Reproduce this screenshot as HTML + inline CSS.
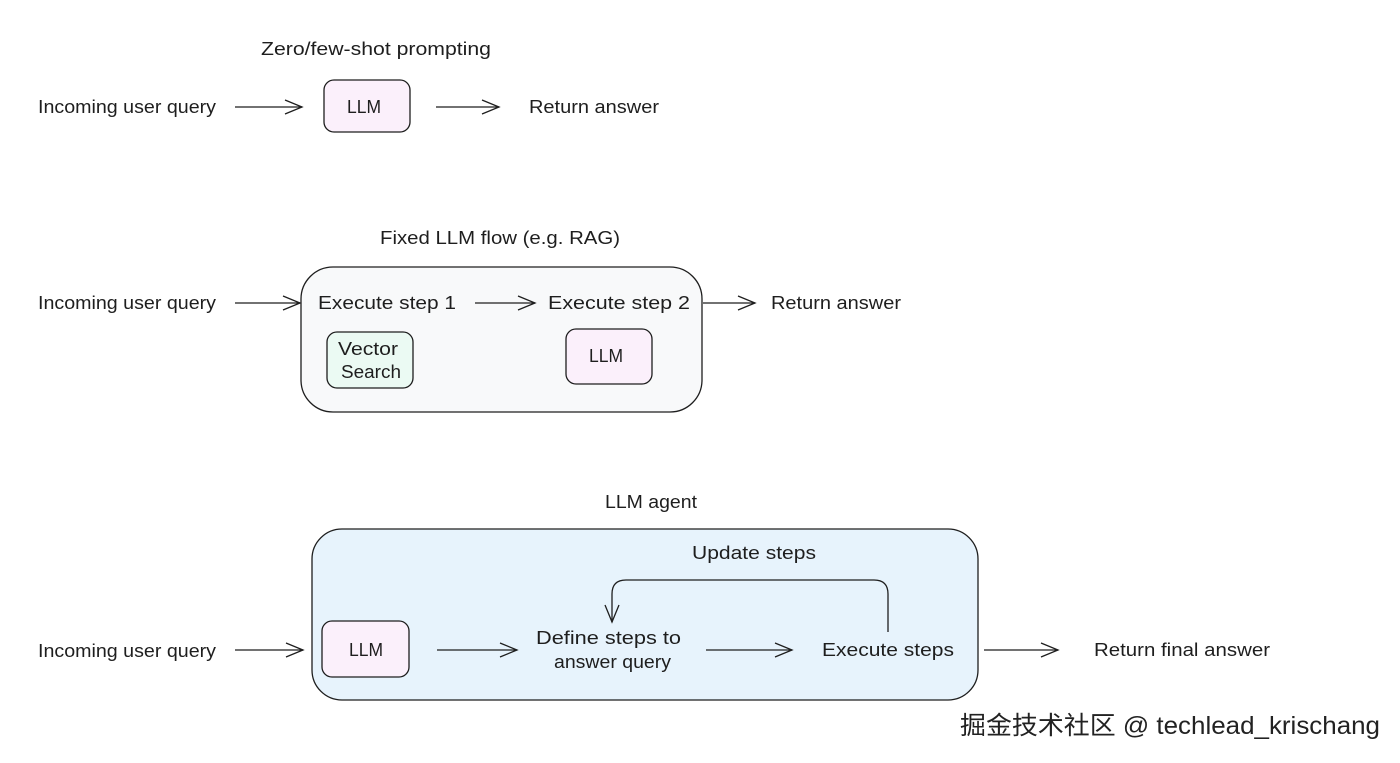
<!DOCTYPE html>
<html><head><meta charset="utf-8"><style>
html,body{margin:0;padding:0;background:#fff;}
svg{display:block;}
text{font-family:"Liberation Sans","Noto Sans CJK SC",sans-serif;font-size:18px;fill:#1e1e1e;}
</style></head><body>
<svg width="1400" height="763" viewBox="0 0 1400 763" xmlns="http://www.w3.org/2000/svg">
<defs>
<marker id="a" markerWidth="20" markerHeight="16" refX="18" refY="8" orient="auto" markerUnits="userSpaceOnUse">
<path d="M1 1 L18 8 L1 15" fill="none" stroke="#1e1e1e" stroke-width="1.3"/>
</marker>
</defs>
<g stroke="#1e1e1e" stroke-width="1.3">
<rect x="324" y="80" width="86" height="52" rx="10" fill="#fbf0fb"/>
<rect x="301" y="267" width="401" height="145" rx="32" fill="#f8f9fa"/>
<rect x="327" y="332" width="86" height="56" rx="10" fill="#ebfaf3"/>
<rect x="566" y="329" width="86" height="55" rx="10" fill="#fbf0fb"/>
<rect x="312" y="529" width="666" height="171" rx="30" fill="#e7f3fc"/>
<rect x="322" y="621" width="87" height="56" rx="10" fill="#fbf0fb"/>
</g>
<g stroke="#1e1e1e" stroke-width="1.3" fill="none" marker-end="url(#a)">
<line x1="235" y1="107" x2="302" y2="107"/>
<line x1="436" y1="107" x2="499" y2="107"/>
<line x1="235" y1="303" x2="300" y2="303"/>
<line x1="475" y1="303" x2="535" y2="303"/>
<line x1="703" y1="303" x2="755" y2="303"/>
<line x1="235" y1="650" x2="303" y2="650"/>
<line x1="437" y1="650" x2="517" y2="650"/>
<line x1="706" y1="650" x2="792" y2="650"/>
<line x1="984" y1="650" x2="1058" y2="650"/>
<path d="M888 632 L888 594 Q888 580 874 580 L626 580 Q612 580 612 594 L612 622"/>
</g>
<text x="261" y="55" textLength="230" lengthAdjust="spacingAndGlyphs">Zero/few-shot prompting</text>
<text x="38" y="113" textLength="178" lengthAdjust="spacingAndGlyphs">Incoming user query</text>
<text x="347" y="113" textLength="34" lengthAdjust="spacingAndGlyphs">LLM</text>
<text x="529" y="113" textLength="130" lengthAdjust="spacingAndGlyphs">Return answer</text>
<text x="380" y="244" textLength="240" lengthAdjust="spacingAndGlyphs">Fixed LLM flow (e.g. RAG)</text>
<text x="38" y="309" textLength="178" lengthAdjust="spacingAndGlyphs">Incoming user query</text>
<text x="318" y="309" textLength="138" lengthAdjust="spacingAndGlyphs">Execute step 1</text>
<text x="548" y="309" textLength="142" lengthAdjust="spacingAndGlyphs">Execute step 2</text>
<text x="771" y="309" textLength="130" lengthAdjust="spacingAndGlyphs">Return answer</text>
<text x="338" y="355" textLength="60" lengthAdjust="spacingAndGlyphs">Vector</text>
<text x="341" y="378" textLength="60" lengthAdjust="spacingAndGlyphs">Search</text>
<text x="589" y="362" textLength="34" lengthAdjust="spacingAndGlyphs">LLM</text>
<text x="605" y="508" textLength="92" lengthAdjust="spacingAndGlyphs">LLM agent</text>
<text x="692" y="559" textLength="124" lengthAdjust="spacingAndGlyphs">Update steps</text>
<text x="38" y="657" textLength="178" lengthAdjust="spacingAndGlyphs">Incoming user query</text>
<text x="349" y="656" textLength="34" lengthAdjust="spacingAndGlyphs">LLM</text>
<text x="536" y="644" textLength="145" lengthAdjust="spacingAndGlyphs">Define steps to</text>
<text x="554" y="668" textLength="117" lengthAdjust="spacingAndGlyphs">answer query</text>
<text x="822" y="656" textLength="132" lengthAdjust="spacingAndGlyphs">Execute steps</text>
<text x="1094" y="656" textLength="176" lengthAdjust="spacingAndGlyphs">Return final answer</text>
<text x="960" y="734" textLength="420" lengthAdjust="spacingAndGlyphs" style="font-size:25px;fill:#222;stroke:#fff;stroke-width:3px;paint-order:stroke;">掘金技术社区 @ techlead_krischang</text>
</svg>
</body></html>
